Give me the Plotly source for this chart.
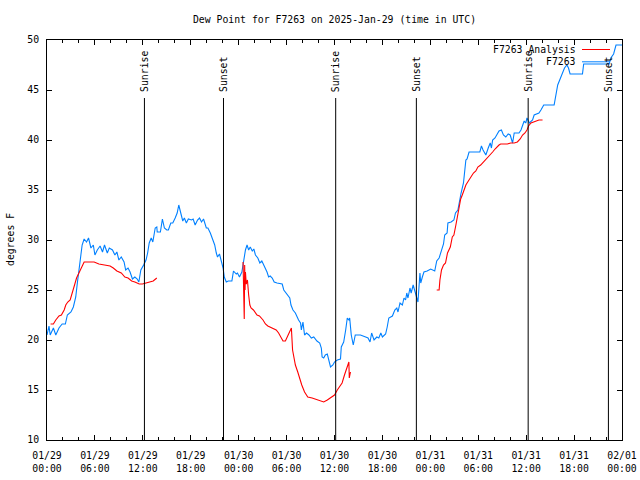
import pandas as pd
import plotly.graph_objects as go

# ---------------- data ----------------
start = "2025-01-29 00:00"

obs_hours = [0.0, 0.25, 0.4, 0.8, 1.1, 1.5, 1.9, 2.3, 2.55, 3.0, 3.3, 3.6, 3.8, 4.0, 4.2, 4.4, 4.65, 4.95,
             5.2, 5.5, 5.8, 6.0, 6.3, 6.65, 6.95, 7.2, 7.55, 7.8, 8.2, 8.5, 8.75, 9.0, 9.3, 9.65, 9.85,
             10.15, 10.4, 10.7, 11.0, 11.3, 11.5, 11.75, 12.1, 12.4, 12.6, 12.8, 13.05, 13.25, 13.55,
             13.75, 13.8, 14.2, 14.45, 14.7, 15.0, 15.2, 15.5, 15.75, 16.05, 16.3, 16.5, 16.8, 17.0,
             17.2, 17.45, 17.7, 18.1, 18.3, 18.55, 18.85, 19.1, 19.35, 19.6, 19.95, 20.15, 20.45, 20.8,
             21.0, 21.2, 21.35, 21.6, 21.8, 22.05, 22.2, 22.45, 22.7, 23.15, 23.35, 23.7, 23.85, 24.1,
             24.4, 24.6, 24.85, 25.05, 25.25, 25.45, 25.7, 25.9, 26.1, 26.4, 26.65, 26.9, 27.1, 27.35,
             27.55, 27.75, 27.95, 28.2, 28.45, 28.8, 29.45, 29.65, 29.85, 30.05, 30.4, 30.55, 30.8,
             31.1, 31.3, 31.5, 31.75, 31.85, 32.05, 32.25, 32.5, 32.8, 33.1, 33.4, 33.8, 34.15, 34.35,
             34.45, 34.65, 34.85, 35.1, 35.3, 35.5, 35.8, 36.0, 36.35, 36.75, 36.85, 37.15, 37.4, 37.6,
             37.8, 37.9, 38.1, 38.35, 38.6, 39.25, 39.9, 40.2, 40.45, 40.65, 40.95, 41.3, 41.55, 41.8,
             42.0, 42.4, 42.6, 42.8, 43.25, 43.55, 43.8, 43.95, 44.2, 44.5, 44.7, 44.9, 45.05, 45.2,
             45.45, 45.6, 45.85, 46.0, 46.3, 46.45, 46.7, 46.8, 47.0, 47.2, 47.6, 48.05, 48.55, 48.8,
             49.1, 49.4, 49.65, 49.8, 50.1, 50.2, 50.6, 50.95, 51.15, 51.45, 51.7, 51.85, 52.15, 52.3,
             52.45, 52.6, 52.85, 54.2, 54.4, 54.6, 54.95, 55.25, 55.5, 55.65, 55.8, 56.1, 56.35, 56.6,
             56.9, 57.15, 57.45, 57.75, 58.0, 58.15, 58.3, 58.5, 59.1, 59.35, 59.55, 59.75, 59.95,
             60.1, 60.4, 60.8, 61.0, 61.6, 61.85, 62.2, 63.5, 63.65, 63.95, 64.3, 64.55, 64.8, 65.1,
             65.3, 65.5, 67.05, 67.2, 70.4, 70.6, 70.95, 71.25, 72.0]
obs_dewpt = [20.5, 21.4, 20.5, 21.2, 20.5, 21.2, 21.6, 21.6, 22.5, 22.8, 23.3, 24.3, 25.7, 27.0, 28.0, 29.5,
             30.1, 29.8, 30.2, 29.2, 29.5, 28.5, 29.0, 29.4, 28.8, 29.5, 28.7, 29.2, 29.0, 28.5, 28.8,
             28.0, 28.3, 27.8, 27.0, 27.2, 26.8, 26.1, 26.3, 26.1, 25.8, 27.0, 27.5, 28.0, 28.7, 29.7,
             30.2, 29.8, 31.2, 31.3, 30.8, 30.8, 32.1, 31.2, 31.0, 31.0, 31.7, 31.7, 32.2, 32.7, 33.5,
             32.4, 31.9, 32.2, 31.7, 32.1, 32.0, 32.1, 31.5, 32.0, 32.2, 31.8, 32.1, 31.2, 31.2, 30.7,
             30.0, 29.5, 28.7, 28.3, 28.6, 28.0, 27.2, 26.3, 25.8, 25.9, 25.9, 26.9, 26.6, 26.7, 26.3,
             26.8, 27.8, 29.0, 29.5, 29.0, 29.3, 28.9, 29.1, 28.5, 28.2, 27.7, 27.9, 27.6, 27.2, 26.8,
             26.3, 26.4, 26.2, 25.8, 25.7, 25.6, 25.0, 24.8, 24.6, 24.2, 23.5, 23.0, 22.7, 22.3, 22.0,
             21.7, 21.0, 21.8, 20.5, 20.7, 20.5, 20.2, 20.3, 19.9, 19.7, 19.2, 18.3, 18.2, 18.5, 18.6,
             17.9, 17.3, 17.5, 17.8, 18.0, 18.1, 19.3, 19.8, 21.0, 22.2, 22.0, 22.2, 20.5, 19.5, 20.5,
             20.5, 20.3, 20.2, 19.8, 20.7, 20.0, 20.3, 20.2, 20.7, 20.3, 20.6, 21.3, 22.2, 22.4, 23.0,
             23.2, 22.8, 23.7, 23.5, 24.2, 24.0, 24.7, 24.2, 25.2, 24.7, 25.5, 25.0, 24.0, 23.8, 26.7,
             25.7, 26.3, 26.8, 26.9, 27.1, 26.9, 27.9, 28.2, 29.1, 29.6, 30.5, 30.7, 31.7, 31.8, 32.0,
             32.7, 33.0, 34.2, 34.7, 35.7, 36.8, 38.0, 38.1, 38.8, 38.8, 39.4, 39.0, 38.5, 39.2, 39.7,
             39.2, 40.0, 40.2, 40.5, 40.9, 41.0, 40.5, 40.3, 40.6, 40.5, 40.0, 39.7, 40.7, 40.7, 41.0,
             41.5, 41.9, 41.7, 42.2, 41.7, 42.0, 42.5, 42.7, 43.0, 43.5, 43.5, 44.3, 45.5, 46.2, 46.7,
             47.2, 47.5, 47.2, 46.6, 46.6, 47.6, 47.6, 48.2, 48.6, 49.5, 49.5]

ana_hours = [0.45, 0.8, 1.1, 1.5, 1.8, 2.15, 2.35, 2.6, 2.9, 3.2, 3.45, 3.7, 4.0, 4.3, 4.65, 5.9, 6.5, 7.2,
             7.9, 8.3, 8.75, 9.3, 9.75, 10.15, 10.6, 11.0, 11.55, 11.95, 12.4, 12.9, 13.3, 13.75,
             None,
             24.55, 24.65, 24.7, 24.75, 24.8, 24.85, 24.95, 25.1, 25.25, 25.4, 25.55, 25.85, 26.3, 26.6,
             27.05, 27.35, 27.65, 28.2, 28.7, 29.0, 29.55, 29.85, 30.3, 30.6, 30.75, 30.9, 31.1, 31.4,
             31.65, 31.9, 32.25, 32.65, 33.2, 33.85, 34.65, 35.1, 35.6, 36.0, 36.35, 36.75, 36.95,
             37.25, 37.6, 37.8, 37.85, 38.0,
             None,
             48.8, 49.1, 49.2, 49.4, 49.65, 49.9, 50.15, 50.5, 50.75, 50.95, 51.2, 51.4, 51.6, 51.8,
             52.0, 52.2, 52.45, 52.6, 52.85, 53.1, 53.4, 53.7, 53.95, 54.3, 54.65, 54.95, 55.25, 55.5,
             55.8, 56.1, 56.3, 56.6, 56.8, 57.65, 58.05, 58.5, 58.9, 59.25, 59.55, 59.85, 60.1, 60.3,
             60.6, 61.0, 61.6, 62.05]
ana_dewpt = [21.6, 21.6, 22.0, 22.4, 22.5, 23.0, 23.5, 23.8, 24.0, 24.7, 25.5, 26.2, 26.7, 27.3, 27.8, 27.8,
             27.6, 27.5, 27.4, 27.2, 26.9, 26.7, 26.3, 26.2, 25.9, 25.8, 25.6, 25.6, 25.7, 25.8, 25.9,
             26.2,
             None,
             27.8, 25.0, 22.1, 27.5, 25.0, 26.8, 25.6, 26.0, 24.5, 23.5, 23.2, 23.0, 22.5, 22.4, 22.0,
             21.6, 21.4, 21.2, 21.0, 20.7, 19.9, 19.9, 20.7, 21.2, 19.0, 18.2, 17.5, 16.8, 16.0, 15.5,
             14.8, 14.3, 14.2, 14.0, 13.8, 14.0, 14.3, 14.5, 15.0, 15.5, 15.7, 16.5, 17.3, 17.8, 16.2,
             16.8,
             None,
             25.0, 25.0, 26.0, 27.0, 27.5, 27.7, 28.7, 29.3, 30.3, 30.5, 31.5, 32.3, 33.2, 34.1, 34.5,
             35.0, 35.5, 35.7, 36.0, 36.3, 36.7, 36.9, 37.3, 37.5, 37.8, 38.0, 38.3, 38.5, 38.8, 39.1,
             39.3, 39.5, 39.6, 39.6, 39.7, 39.7, 39.8, 40.1, 40.5, 40.7, 41.0, 41.4, 41.7, 41.8, 42.0,
             42.0]

sun_hours = [12.2, 22.1, 36.15, 46.25, 60.25, 70.3]
sun_labels = ["Sunrise", "Sunset", "Sunrise", "Sunset", "Sunrise", "Sunset"]
sun_line_top = 44.2

series_names = ["F7263 Analysis", "F7263"]
title_text = "Dew Point for F7263 on 2025-Jan-29 (time in UTC)"
y_title = "degrees F"

# ---------------- build ----------------
base = pd.Timestamp(start)


def to_time(hours):
    return [None if h is None else base + pd.Timedelta(hours=h) for h in hours]


FONT = "DejaVu Sans Mono"
FS = 9.8
RED = "#ff0000"
BLUE = "#0080ff"

fig = go.Figure()
fig.add_trace(go.Scatter(x=to_time(obs_hours), y=obs_dewpt, mode="lines",
                         line=dict(color=BLUE, width=1.1), name=series_names[1],
                         showlegend=False))
fig.add_trace(go.Scatter(x=to_time(ana_hours), y=ana_dewpt, mode="lines",
                         line=dict(color=RED, width=1.1), name=series_names[0],
                         connectgaps=False, showlegend=False))

shapes = []
annotations = []
for h, lab in zip(sun_hours, sun_labels):
    t = base + pd.Timedelta(hours=h)
    shapes.append(dict(type="line", xref="x", yref="y", x0=t, x1=t, y0=10, y1=sun_line_top,
                       line=dict(color="black", width=1)))
    annotations.append(dict(x=t, y=sun_line_top, xref="x", yref="y", text=lab, textangle=-90,
                            showarrow=False, xanchor="center", yanchor="bottom", yshift=4,
                            font=dict(family=FONT, size=FS, color="black")))

# gnuplot-style key: text right-aligned, sample to the right
key_colors = [RED, BLUE]
for i, (name, col) in enumerate(zip(series_names, key_colors)):
    ypix = 49.5 + 12.3 * i
    yp = 1 - (ypix - 40) / 400
    annotations.append(dict(x=1, y=yp, xref="paper", yref="paper", text=name, showarrow=False,
                            xanchor="right", yanchor="middle", xshift=-44,
                            font=dict(family=FONT, size=FS, color="black")))
    shapes.append(dict(type="line", xref="paper", yref="paper",
                       x0=(582 - 47) / 575, x1=(610 - 47) / 575, y0=yp, y1=yp,
                       line=dict(color=col, width=1)))

annotations.append(dict(x=0, y=0.5, xref="paper", yref="paper", text=y_title, textangle=-90,
                        showarrow=False, xanchor="center", yanchor="middle", xshift=-37,
                        font=dict(family=FONT, size=FS, color="black")))

fig.update_layout(
    template="none",
    width=640, height=480,
    margin=dict(l=47, r=18, t=40, b=40, autoexpand=False),
    paper_bgcolor="white", plot_bgcolor="white",
    font=dict(family=FONT, size=FS, color="black"),
    title=dict(text=title_text, x=0.5, xref="paper", y=0.96, yref="container",
               xanchor="center", yanchor="middle", font=dict(family=FONT, size=FS)),
    shapes=shapes, annotations=annotations, showlegend=False,
)
fig.update_xaxes(
    type="date", range=[base, base + pd.Timedelta(hours=72)], automargin=False,
    tick0=base, dtick=6 * 3600 * 1000, tickformat="%m/%d<br>%H:%M",
    ticks="inside", ticklen=5, tickcolor="black", tickwidth=1, ticklabelstandoff=6,
    minor=dict(dtick=2 * 3600 * 1000, ticks="inside", ticklen=3, tickcolor="black", showgrid=False),
    showline=True, linecolor="black", linewidth=1, mirror="ticks",
    showgrid=False, zeroline=False, tickfont=dict(family=FONT, size=FS, color="black"),
)
fig.update_yaxes(
    range=[10, 50], dtick=5, tick0=10, automargin=False,
    ticks="inside", ticklen=5, tickcolor="black", tickwidth=1, ticklabelstandoff=5,
    showline=True, linecolor="black", linewidth=1, mirror="ticks",
    showgrid=False, zeroline=False, tickfont=dict(family=FONT, size=FS, color="black"),
)

fig.write_html(
    "out.html",
    config={"displayModeBar": False},
    post_script="document.body.style.margin='0';",
)
